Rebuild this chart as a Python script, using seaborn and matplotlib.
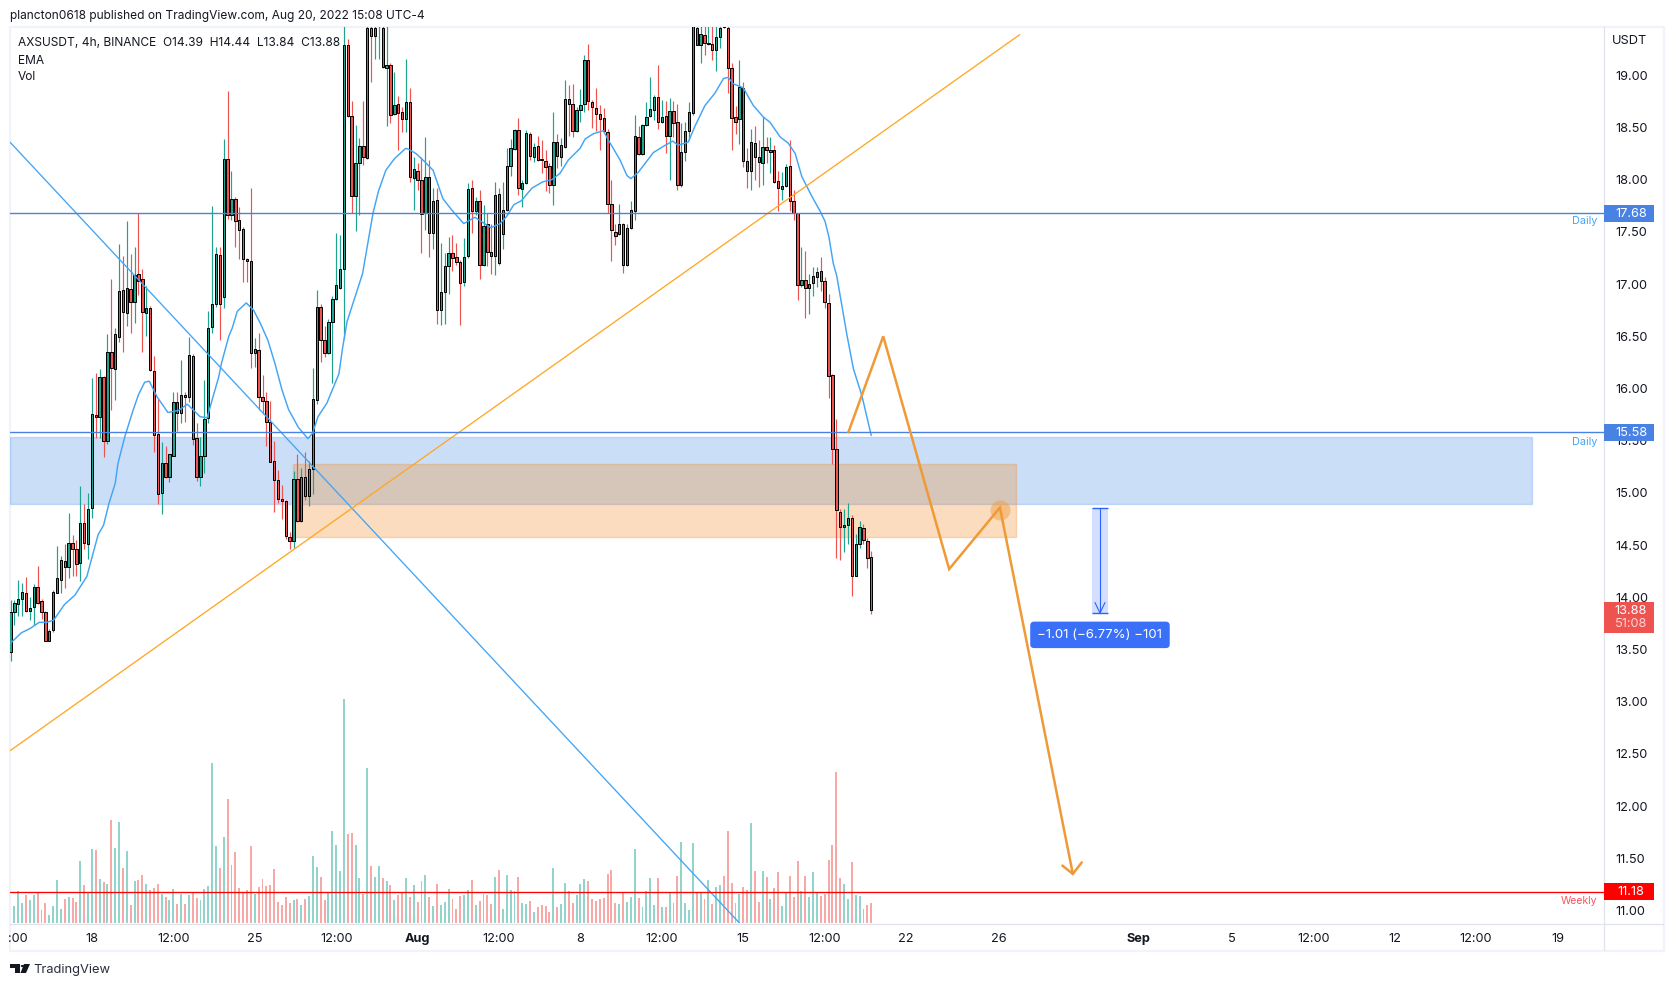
import numpy as np
import pandas as pd
import matplotlib
matplotlib.use("Agg")
import matplotlib.pyplot as plt
import matplotlib.transforms as mtrans
from matplotlib.lines import Line2D
from matplotlib.patches import Rectangle, Polygon
import seaborn as sns

# candles, 4h bars
opens = [
    13.48, 13.86, 13.94, 13.98, 14.04, 13.87, 13.91, 14.10, 13.96, 13.86,
    13.58, 13.69, 14.04, 14.17, 14.35, 14.29, 14.52, 14.46, 14.33, 14.71,
    14.51, 14.86, 15.75, 15.73, 16.11, 15.50, 16.35, 16.19, 16.49, 16.94,
    16.72, 16.95, 16.83, 17.10, 17.05, 16.72, 16.77, 16.17, 15.56, 15.00,
    15.29, 15.15, 15.35, 15.87, 15.77, 15.94, 15.92, 16.31, 15.53, 15.15,
    15.35, 15.72, 16.59, 16.81, 17.28, 16.88, 18.20, 17.66, 17.82, 17.61,
    17.53, 17.24, 17.22, 16.34, 16.37, 15.92, 15.88, 15.68, 15.31, 15.12,
    14.94, 14.92, 14.58, 14.54, 15.13, 14.73, 15.15, 14.97, 15.23, 15.89,
    16.78, 16.46, 16.34, 16.64, 16.86, 16.96, 17.14, 19.29, 18.61, 17.84,
    18.16, 18.32, 18.21, 19.45, 19.38, 19.55, 19.45, 19.07, 19.10, 18.63,
    18.73, 18.65, 18.58, 18.74, 18.02, 18.08, 18.00, 17.68, 18.03, 17.49,
    17.81, 16.75, 16.92, 17.17, 17.30, 17.26, 17.21, 17.02, 17.27, 17.92,
    17.70, 17.80, 17.18, 17.58, 17.31, 17.27, 17.86, 17.48, 17.71, 18.13,
    18.29, 18.48, 17.91, 17.97, 18.44, 18.22, 18.32, 18.20, 18.18, 18.13,
    17.95, 18.36, 18.22, 18.31, 18.77, 18.73, 18.47, 18.67, 18.73, 19.15,
    18.74, 18.69, 18.63, 18.59, 18.46, 17.77, 17.50, 17.48, 17.58, 17.18,
    17.54, 17.70, 18.41, 18.25, 18.52, 18.61, 18.67, 18.79, 18.55, 18.61,
    18.42, 18.66, 18.55, 17.95, 18.27, 18.47, 18.64, 19.45, 19.29, 19.39,
    19.30, 19.30, 19.24, 19.37, 19.55, 19.45, 19.07, 18.60, 18.58, 18.88,
    18.18, 18.08, 18.35, 18.22, 18.16, 18.31, 18.27, 18.28, 17.99, 17.91,
    17.94, 18.13, 17.80, 17.68, 16.99, 17.04, 16.96, 17.01, 17.07, 17.13,
    17.03, 16.82, 16.13, 15.42, 14.82, 14.67, 14.69, 14.76, 14.20, 14.51,
    14.66, 14.54, 14.39,
]
highs = [
    13.97, 13.97, 14.17, 14.14, 14.19, 14.00, 14.13, 14.30, 13.98, 13.87,
    13.70, 14.07, 14.49, 14.40, 14.51, 14.81, 14.60, 14.55, 15.07, 14.89,
    15.00, 16.10, 16.15, 16.19, 16.12, 16.52, 17.05, 16.58, 17.38, 17.27,
    17.60, 17.29, 17.36, 17.68, 17.14, 16.98, 16.79, 16.31, 15.90, 15.49,
    15.45, 15.37, 15.97, 15.97, 16.27, 15.97, 16.49, 16.33, 15.67, 15.54,
    16.08, 16.74, 17.75, 17.36, 17.36, 18.39, 18.85, 18.08, 17.83, 17.74,
    17.55, 17.25, 17.92, 16.48, 16.53, 16.13, 15.97, 15.88, 15.50, 15.22,
    15.08, 14.93, 14.63, 15.21, 15.37, 15.24, 15.39, 15.31, 16.20, 16.94,
    16.81, 16.60, 16.67, 16.89, 17.49, 17.47, 19.47, 19.35, 18.75, 18.52,
    18.40, 18.75, 19.60, 19.60, 19.60, 19.60, 19.60, 19.50, 19.12, 19.03,
    18.80, 18.70, 19.16, 18.88, 18.22, 18.16, 18.22, 18.41, 18.19, 17.92,
    17.92, 17.39, 17.30, 17.45, 17.47, 17.39, 17.23, 17.44, 17.97, 18.00,
    17.83, 17.90, 17.76, 17.68, 17.58, 17.98, 17.92, 17.98, 18.30, 18.39,
    18.49, 18.59, 18.00, 18.48, 18.46, 18.35, 18.42, 18.38, 18.28, 18.16,
    18.65, 18.44, 18.40, 18.96, 18.91, 18.92, 18.70, 18.87, 19.19, 19.30,
    18.76, 18.88, 18.72, 18.69, 18.49, 18.00, 17.58, 17.77, 17.59, 17.58,
    17.80, 18.62, 18.51, 18.53, 18.74, 18.98, 18.81, 19.10, 18.76, 18.75,
    18.78, 18.75, 18.73, 18.54, 18.55, 18.74, 19.60, 19.60, 19.60, 19.60,
    19.60, 19.60, 19.60, 19.60, 19.60, 19.60, 19.12, 18.71, 19.15, 18.94,
    18.30, 18.49, 18.51, 18.38, 18.60, 18.41, 18.41, 18.33, 18.08, 18.07,
    18.15, 18.38, 17.90, 17.68, 17.36, 17.32, 17.10, 17.16, 17.16, 17.26,
    17.07, 16.91, 16.14, 15.71, 14.85, 14.85, 14.90, 14.79, 14.61, 14.73,
    14.70, 14.57, 14.44,
]
lows = [
    13.39, 13.73, 13.82, 13.82, 13.86, 13.78, 13.73, 13.94, 13.79, 13.58,
    13.58, 13.67, 14.04, 14.04, 14.09, 14.18, 14.20, 14.20, 14.16, 14.46,
    14.37, 14.76, 15.53, 15.53, 15.34, 15.47, 15.79, 15.89, 16.45, 16.35,
    16.60, 16.53, 16.63, 16.90, 16.35, 16.50, 16.17, 15.39, 14.89, 14.80,
    15.14, 15.10, 15.35, 15.59, 15.67, 15.68, 15.87, 15.46, 15.11, 15.07,
    15.19, 15.67, 16.53, 16.78, 16.46, 16.77, 17.62, 17.61, 17.36, 17.24,
    17.02, 17.02, 16.20, 16.21, 15.79, 15.76, 15.45, 15.30, 14.82, 14.90,
    14.75, 14.56, 14.46, 14.47, 14.72, 14.72, 14.93, 14.87, 14.99, 15.85,
    16.25, 16.30, 16.33, 16.05, 16.85, 16.95, 16.47, 18.60, 17.68, 17.51,
    17.66, 18.14, 18.20, 18.94, 19.16, 19.16, 19.07, 18.51, 18.54, 18.62,
    18.28, 18.46, 18.46, 17.98, 17.71, 17.90, 17.30, 17.52, 17.26, 17.34,
    16.62, 16.61, 16.62, 16.91, 17.13, 17.18, 16.61, 16.98, 17.25, 17.49,
    17.66, 17.05, 17.17, 17.17, 17.10, 17.09, 17.18, 17.34, 17.70, 18.04,
    18.28, 17.85, 17.74, 17.96, 18.19, 18.17, 18.18, 18.06, 17.89, 17.87,
    17.76, 18.11, 18.13, 18.30, 18.42, 18.41, 18.46, 18.55, 18.65, 18.67,
    18.50, 18.47, 18.28, 18.46, 17.68, 17.22, 17.37, 17.47, 17.11, 17.17,
    17.53, 17.61, 18.24, 18.24, 18.51, 18.60, 18.57, 18.49, 18.54, 18.26,
    18.00, 18.41, 17.90, 17.93, 18.18, 18.38, 18.62, 19.29, 19.12, 19.19,
    19.29, 19.15, 19.04, 19.26, 19.45, 18.83, 18.28, 18.44, 18.34, 18.12,
    17.92, 17.90, 18.00, 17.93, 17.95, 18.16, 18.06, 17.97, 17.70, 17.81,
    17.93, 17.70, 17.61, 16.85, 16.97, 16.68, 16.71, 16.89, 16.97, 16.93,
    16.77, 15.91, 15.28, 14.38, 14.36, 14.43, 14.51, 14.01, 14.20, 14.47,
    14.51, 14.28, 13.84,
]
closes = [
    13.86, 13.95, 13.98, 14.05, 13.87, 13.90, 14.10, 13.95, 13.86, 13.58,
    13.68, 14.05, 14.18, 14.36, 14.29, 14.52, 14.46, 14.32, 14.71, 14.52,
    14.85, 15.76, 15.73, 16.11, 15.50, 16.35, 16.20, 16.52, 16.93, 16.73,
    16.96, 16.83, 17.09, 17.03, 16.73, 16.77, 16.18, 15.55, 14.99, 15.29,
    15.15, 15.37, 15.87, 15.77, 15.94, 15.92, 16.32, 15.52, 15.15, 15.35,
    15.71, 16.58, 16.81, 17.29, 16.81, 18.20, 17.66, 17.82, 17.60, 17.52,
    17.24, 17.22, 16.34, 16.38, 15.92, 15.88, 15.68, 15.30, 15.12, 14.94,
    14.92, 14.59, 14.54, 15.13, 14.73, 15.15, 14.97, 15.23, 15.90, 16.78,
    16.46, 16.34, 16.64, 16.86, 16.99, 17.14, 19.29, 18.61, 17.84, 18.16,
    18.32, 18.22, 19.45, 19.38, 19.45, 19.70, 19.08, 19.10, 18.62, 18.72,
    18.64, 18.58, 18.74, 18.03, 18.10, 18.00, 17.67, 18.03, 17.49, 17.80,
    16.75, 16.92, 17.17, 17.30, 17.25, 17.21, 17.01, 17.26, 17.91, 17.70,
    17.80, 17.18, 17.56, 17.31, 17.27, 17.85, 17.20, 17.71, 18.13, 18.30,
    18.48, 17.92, 17.97, 18.45, 18.23, 18.31, 18.19, 18.19, 18.12, 17.95,
    18.36, 18.23, 18.33, 18.77, 18.73, 18.47, 18.67, 18.72, 19.15, 18.75,
    18.70, 18.63, 18.58, 18.47, 17.77, 17.52, 17.46, 17.58, 17.18, 17.54,
    17.71, 18.42, 18.25, 18.52, 18.60, 18.68, 18.79, 18.55, 18.60, 18.42,
    18.66, 18.54, 17.95, 18.27, 18.47, 18.65, 19.55, 19.29, 19.40, 19.31,
    19.31, 19.24, 19.37, 19.45, 19.46, 19.07, 18.59, 18.55, 18.89, 18.18,
    18.08, 18.36, 18.22, 18.17, 18.31, 18.28, 18.28, 17.98, 17.92, 17.94,
    18.12, 17.80, 17.68, 16.99, 17.04, 16.96, 17.00, 17.08, 17.12, 17.03,
    16.83, 16.12, 15.42, 14.84, 14.67, 14.69, 14.76, 14.20, 14.51, 14.67,
    14.55, 14.38, 13.88,
]

# volume, read in arbitrary units
volumes = [
    105, 52, 97, 61, 85, 70, 85, 94, 40, 61,
    25, 52, 130, 43, 73, 79, 76, 64, 187, 115,
    91, 223, 220, 133, 124, 118, 310, 226, 304, 166,
    217, 55, 127, 130, 145, 118, 100, 106, 118, 88,
    79, 70, 103, 58, 88, 58, 85, 94, 76, 70,
    103, 112, 481, 232, 166, 259, 373, 175, 214, 106,
    94, 100, 232, 88, 109, 133, 112, 115, 163, 64,
    55, 79, 61, 70, 73, 55, 73, 82, 202, 169,
    139, 70, 94, 277, 235, 157, 673, 268, 271, 235,
    136, 88, 466, 172, 139, 172, 136, 127, 115, 70,
    85, 94, 136, 79, 115, 64, 127, 145, 79, 52,
    118, 55, 64, 103, 73, 43, 82, 85, 100, 130,
    55, 67, 88, 85, 58, 139, 160, 43, 145, 100,
    97, 139, 61, 58, 67, 34, 49, 55, 52, 34,
    166, 49, 58, 121, 97, 61, 85, 118, 133, 127,
    73, 67, 73, 76, 148, 160, 61, 58, 94, 64,
    79, 223, 76, 49, 97, 136, 55, 136, 49, 49,
    94, 61, 142, 244, 61, 40, 241, 94, 94, 73,
    130, 58, 109, 115, 142, 277, 121, 61, 88, 109,
    100, 301, 157, 64, 157, 139, 73, 106, 154, 52,
    94, 142, 79, 187, 97, 142, 79, 154, 94, 82,
    88, 190, 235, 454, 136, 118, 73, 184, 85, 82,
    43, 55, 61,
]

# EMA line, read at the points where it bends
ema_bars = [
    0, 2.8, 5, 7.4, 9.3, 11.1, 13.9, 16.6, 19.7, 22.6, 24, 25.4, 27, 27.7,
    29.5, 31.6, 33, 34.6, 35.8, 37.8, 40.6, 43.4, 45.6, 48.9, 50.7, 52, 53.7,
    54.4, 56.3, 57.2, 58.5, 60.8, 62.7, 64.5, 66.4, 68.2, 70, 71.7, 74.2,
    76.7, 77.9, 79.3, 81.6, 84.7, 85.7, 86.8, 90.8, 93.5, 94.9, 96.8, 99,
    101.9, 102.8, 104.6, 106.9, 109, 111.5, 113.8, 116.9, 119.8, 123.9,
    126.3, 128, 129.8, 131.8, 134.5, 137.3, 139.6, 141.7, 143.9, 146.9,
    148.2, 150.3, 152.9, 154.2, 157.2, 159, 160, 161.9, 165.8, 168.4, 170.8,
    172.2, 174.8, 176.5, 179.1, 181.7, 183.9, 185.1, 186.4, 189, 191.6,
    194.2, 195.9, 198.5, 200.6, 202.4, 204.1, 206.7, 208.8, 210.1, 211.1,
    212.2, 213.1, 215.7, 217.4, 219.6, 222,
]
ema_values = [
    13.56, 13.66, 13.70, 13.76, 13.76, 13.78, 13.93, 14.02, 14.20, 14.60,
    14.69, 14.90, 15.09, 15.28, 15.54, 15.79, 15.94, 16.06, 16.07, 15.92,
    15.77, 15.79, 15.85, 15.73, 15.72, 15.89, 16.11, 16.24, 16.50, 16.58,
    16.74, 16.82, 16.75, 16.62, 16.46, 16.24, 15.99, 15.80, 15.63, 15.52,
    15.57, 15.73, 15.86, 16.14, 16.40, 16.64, 17.10, 17.68, 17.89, 18.09,
    18.20, 18.30, 18.29, 18.25, 18.17, 18.09, 17.82, 17.71, 17.58, 17.64,
    17.54, 17.58, 17.65, 17.76, 17.80, 17.92, 17.98, 18.00, 18.06, 18.19,
    18.30, 18.39, 18.44, 18.47, 18.38, 18.19, 18.04, 18.01, 18.07, 18.26,
    18.32, 18.37, 18.33, 18.36, 18.51, 18.71, 18.83, 18.97, 18.98, 18.92,
    18.88, 18.71, 18.60, 18.55, 18.41, 18.35, 18.25, 18.03, 17.84, 17.70,
    17.60, 17.45, 17.20, 17.08, 16.52, 16.19, 15.93, 15.55,
]

# drawings on the chart
blue_trend_bars = [-0.13, 188]
blue_trend_prices = [18.36, 10.88]
orange_trend_bars = [-0.13, 260.3]
orange_trend_prices = [12.53, 19.39]
path_bars = [216.1, 225.1, 242.1, 255.2, 274.0]
path_prices = [15.58, 16.50, 14.27, 14.86, 11.35]
barb_bars = [271.3, 274.0, 276.3]
barb_prices = [11.43, 11.35, 11.46]
levels = [17.68, 15.58]
weekly_level = 11.18

# time axis
tick_bars = [2, 21, 42, 63, 84, 105, 126, 147, 168, 189, 210, 231, 255, 291, 315, 336, 357, 378, 399]
tick_labels = [":00", "18", "12:00", "25", "12:00", "Aug", "12:00", "8", "12:00", "15",
               "12:00", "22", "26", "Sep", "5", "12:00", "12", "12:00", "19"]
price_ticks = [11 + 0.5 * k for k in range(17)]

GREEN = "#1fa38f"
RED = "#ef5350"
INK = "#131722"
BLUE_LINE = "#4a82e4"
LIGHT_BLUE = "#42a5f5"
ORANGE = "#ef9a36"

sns.set_theme(style="white")
plt.rcParams["font.family"] = ["Inter", "DejaVu Sans"]

W, H = 1674, 986
fig = plt.figure(figsize=(W / 100, H / 100), dpi=100, facecolor="white")
ax = fig.add_axes([10 / W, 1 - 923.3 / H, 1594 / W, 896.3 / H])
vol_ax = ax.twinx()
ax.set_zorder(vol_ax.get_zorder() + 1)
ax.patch.set_visible(False)

df = pd.DataFrame({"bar": np.arange(len(opens)), "open": opens, "high": highs,
                   "low": lows, "close": closes})
df["side"] = np.where(df["close"] >= df["open"], "up", "down")
df["volume"] = volumes

# volume pane along the bottom
sns.barplot(data=df, x="bar", y="volume", hue="side", native_scale=True, dodge=False,
            palette={"up": "#92d3cb", "down": "#f7a9a7"}, saturation=1, width=0.5,
            errorbar=None, legend=False, linewidth=0, ax=vol_ax)
vol_ax.set_ylim(0, 2689)
vol_ax.set_yticks([])
vol_ax.set_ylabel("")
vol_ax.set_xlabel("")

# zones
ax.add_patch(Rectangle((-0.13, 14.89), 392.5, 0.65, facecolor="#4285e8", alpha=0.27,
                       edgecolor="#4a90f0", lw=1, zorder=1))
ax.add_patch(Rectangle((72.8, 14.575), 186.5, 0.705, facecolor="#f28c28", alpha=0.3,
                       edgecolor="#f28c28", lw=1, zorder=1.1))

# candles
colors = np.where(df["side"] == "up", GREEN, RED)
ax.vlines(df["bar"], df["low"], df["high"], colors=colors, lw=0.85, zorder=3)
ax.bar(df["bar"], (df["close"] - df["open"]).abs(), bottom=df[["open", "close"]].min(axis=1),
       width=0.62, color=colors, edgecolor="black", lw=0.72, zorder=4)

sns.lineplot(x=ema_bars, y=ema_values, color=LIGHT_BLUE, lw=1.05, sort=False,
             estimator=None, ax=ax, zorder=5)

# trend lines and levels
ax.plot(blue_trend_bars, blue_trend_prices, color=LIGHT_BLUE, lw=0.95, zorder=5)
ax.plot(orange_trend_bars, orange_trend_prices, color="#ffa726", lw=0.95, zorder=5)
for level in levels:
    ax.axhline(level, color=BLUE_LINE, lw=1.0, zorder=6)
ax.axhline(weekly_level, color="#ff0000", lw=0.95, zorder=6)

# projected path
ax.plot(path_bars, path_prices, color=ORANGE, lw=1.8, solid_joinstyle="miter", zorder=7)
ax.plot(barb_bars, barb_prices, color=ORANGE, lw=1.8, solid_joinstyle="miter", zorder=7)
ax.scatter([255.2], [14.84], s=207, color=ORANGE, alpha=0.45, linewidths=0, zorder=6)

# measure tool
ax.add_patch(Rectangle((279, 13.85), 4, 1.01, facecolor="#2962ff", alpha=0.2, lw=0, zorder=5))
ax.hlines([14.86, 13.85], 279, 283, color="#2962ff", lw=1, zorder=6)
ax.plot([281, 281], [14.86, 13.85], color="#2962ff", lw=0.8, zorder=6)
ax.plot([279.7, 281, 282.3], [13.95, 13.85, 13.95], color="#2962ff", lw=0.8, zorder=6)
ax.text(281, 13.64, "\u22121.01 (\u22126.77%) \u2212101", color="white", fontsize=9.5, ha="center",
        va="center", zorder=8,
        bbox=dict(boxstyle="round,pad=0.55,rounding_size=0.3", fc="#3a6ff7", ec="none"))

ax.set_xlim(-0.13, 411)
ax.set_ylim(10.877, 19.463)
ax.set_yticks(price_ticks, [f"{p:.2f}" for p in price_ticks])
ax.yaxis.tick_right()
ax.set_xticks(tick_bars, tick_labels)
ax.tick_params(axis="y", length=0, pad=8, labelsize=9.2, labelcolor=INK)
ax.tick_params(axis="x", length=0, pad=6.8, labelsize=9.2, labelcolor=INK)
ax.set_xlabel("")
ax.set_ylabel("")
for lab in ax.get_xticklabels():
    if lab.get_text() in ("Aug", "Sep"):
        lab.set_fontweight("bold")
vol_ax.tick_params(axis="x", labelbottom=False, length=0)
sns.despine(ax=ax, left=True, right=True, top=True, bottom=True)
sns.despine(ax=vol_ax, left=True, right=True, top=True, bottom=True)

# price tags on the scale
tag_tf = mtrans.blended_transform_factory(ax.transAxes, ax.transData)
tags = [(17.68, "17.68", BLUE_LINE), (15.58, "15.58", BLUE_LINE), (11.18, "11.18", "#ff0000")]
for price, text, col in tags:
    ax.add_patch(Rectangle((1.0, price - 0.081), 0.0314, 0.162, transform=tag_tf, facecolor=col,
                           lw=0, clip_on=False, zorder=10))
    ax.text(1.0169, price - 0.005, text, transform=tag_tf, color="white", fontsize=9.2, ha="center",
            va="center", clip_on=False, zorder=11)
ax.add_patch(Rectangle((1.0, 13.66), 0.0314, 0.295, transform=tag_tf, facecolor=RED, lw=0,
                       clip_on=False, zorder=10))
ax.text(1.0169, 13.87, "13.88", transform=tag_tf, color="white", fontsize=9.2, ha="center",
        va="center", clip_on=False, zorder=11)
ax.text(1.0169, 13.74, "51:08", transform=tag_tf, color="#fbd5d3", fontsize=9.2, ha="center",
        va="center", clip_on=False, zorder=11)


def fx(x):
    return x / W


def fy(y):
    return 1 - y / H


# frame of the chart
frame = "#f0f3fa"
fig.add_artist(Rectangle((fx(9.5), fy(951)), fx(1655), 924.5 / H, fill=False, ec=frame, lw=1.6, zorder=1))
fig.add_artist(Line2D([fx(1604), fx(1604)], [fy(27), fy(950)], color="#e0e3eb", lw=0.9, zorder=1))
fig.add_artist(Line2D([fx(10), fx(1663)], [fy(923.5), fy(923.5)], color="#e0e3eb", lw=0.9, zorder=1))

# header, legend and footer text
fig.text(fx(10), fy(16.5), "plancton0618 published on TradingView.com, Aug 20, 2022 15:08 UTC-4",
         fontsize=8.6, color=INK, va="center", zorder=12)
fig.text(fx(18), fy(43.5), "AXSUSDT, 4h, BINANCE  O14.39  H14.44  L13.84  C13.88",
         fontsize=8.6, color=INK, va="center", zorder=12)
fig.text(fx(18), fy(60.5), "EMA", fontsize=8.6, color=INK, va="center", zorder=12)
fig.text(fx(18), fy(77.5), "Vol", fontsize=8.6, color=INK, va="center", zorder=12)
fig.text(fx(1630), fy(40.7), "USDT", fontsize=9.2, color=INK, ha="center", va="center", zorder=12)
fig.text(fx(1597.7), fy(221), "Daily", fontsize=7.8, color=LIGHT_BLUE, ha="right", va="center", zorder=12)
fig.text(fx(1597.7), fy(441.7), "Daily", fontsize=7.8, color=LIGHT_BLUE, ha="right", va="center", zorder=12)
fig.text(fx(1597.7), fy(900.7), "Weekly", fontsize=7.5, color="#f7525f", ha="right", va="center", zorder=12)
fig.text(fx(33.7), fy(970), "TradingView", fontsize=9.3, color="#2a2e39", va="center", zorder=12)

# TradingView logo
logo = [
    [(10, 964), (20, 964), (20, 973), (15.5, 973), (15.5, 968), (10, 968)],
    [(24, 964), (30, 964), (26, 973), (20.5, 973)],
]
for pts in logo:
    fig.add_artist(Polygon([(fx(x), fy(y)) for x, y in pts], closed=True, fc="#131722", ec="none", zorder=12))
fig.add_artist(plt.Circle((fx(22.5), fy(966)), 1.8 / W, fc="#131722", ec="none", zorder=12))

fig.savefig("out.png", dpi=100)
